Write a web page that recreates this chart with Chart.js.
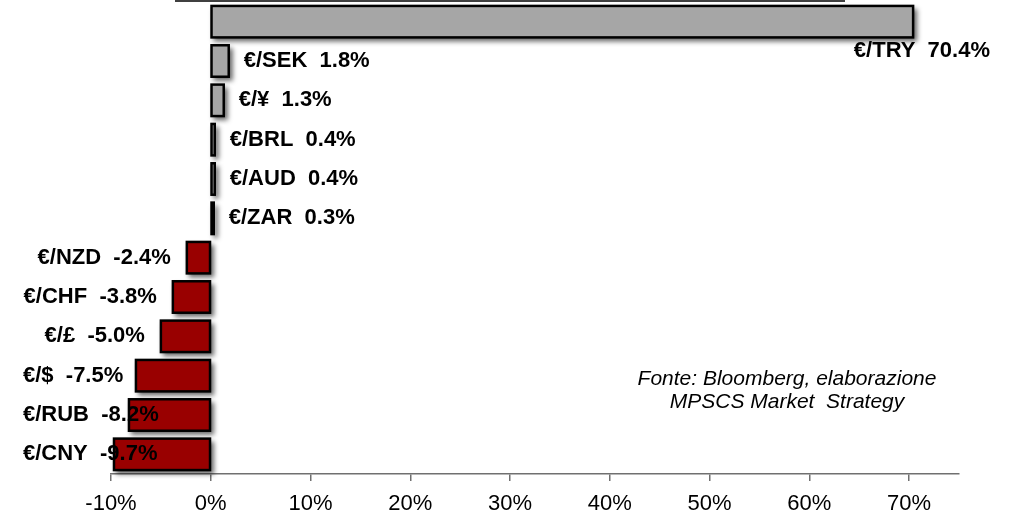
<!DOCTYPE html>
<html>
<head>
<meta charset="utf-8">
<script src="https://cdn.jsdelivr.net/npm/chart.js@4/dist/chart.umd.min.js"></script>
<style>
  body { margin: 0; background: #fff; }
  #wrap { position: relative; width: 1011px; height: 515px; }
  #fonte {
    position: absolute; left: 617px; top: 366px; width: 340px;
    text-align: center; font: italic 21px Arial, "Liberation Sans", sans-serif;
    line-height: 23px; color: #000; white-space: pre;
  }
</style>
</head>
<body>
<div id="wrap">
  <canvas id="fxChart"></canvas>
  <div id="fonte">Fonte: Bloomberg, elaborazione
MPSCS Market  Strategy</div>
</div>
<script>
const coppie = ['€/TRY', '€/SEK', '€/¥', '€/BRL', '€/AUD', '€/ZAR', '€/NZD', '€/CHF', '€/£', '€/$', '€/RUB', '€/CNY'];
const variazioni = [70.4, 1.8, 1.3, 0.4, 0.4, 0.3, -2.4, -3.8, -5.0, -7.5, -8.2, -9.7];
const tickVals = [-10, 0, 10, 20, 30, 40, 50, 60, 70];

const labelFont = 'bold 22px Arial, "Liberation Sans", sans-serif';

function barRect(bar) {
    const left = Math.min(bar.x, bar.base);
    const w = Math.abs(bar.x - bar.base);
    return { left: left, top: bar.y - bar.height / 2, w: w, h: bar.height };
}

// ombra sotto le barre + bordo nero stile Excel (centrato sul bordo)
const barStylePlugin = {
    id: 'barStyle',
    beforeDatasetsDraw(chart) {
        const ctx = chart.ctx;
        ctx.save();
        ctx.filter = 'blur(2.5px)';
        ctx.fillStyle = 'rgba(0,0,0,0.6)';
        chart.getDatasetMeta(0).data.forEach(bar => {
            const r = barRect(bar);
            ctx.fillRect(r.left + 2, r.top + 3, r.w + 2, r.h + 1);
        });
        ctx.restore();
    },
    afterDatasetsDraw(chart) {
        const ctx = chart.ctx;
        ctx.save();
        ctx.strokeStyle = '#000';
        ctx.lineWidth = 2.5;
        chart.getDatasetMeta(0).data.forEach(bar => {
            const r = barRect(bar);
            ctx.strokeRect(r.left, r.top, r.w, r.h);
        });
        ctx.restore();
    }
};

// etichette "€/XXX  1.8%" accanto alle barre
const labelPlugin = {
    id: 'barLabels',
    afterDraw(chart) {
        const ctx = chart.ctx;
        const meta = chart.getDatasetMeta(0);
        ctx.save();
        // linea in alto
        ctx.strokeStyle = '#404040';
        ctx.lineWidth = 2;
        ctx.beginPath();
        ctx.moveTo(175, 1);
        ctx.lineTo(845, 1);
        ctx.stroke();

        ctx.font = labelFont;
        ctx.fillStyle = '#000';
        ctx.textBaseline = 'middle';
        ctx.textAlign = 'left';
        meta.data.forEach((bar, i) => {
            const v = variazioni[i];
            const txt = coppie[i] + '  ' + v.toFixed(1) + '%';
            const w = ctx.measureText(txt).width;
            if (v >= 0) {
                let x = bar.x + 15;
                let y = bar.y;
                if (x + w > chart.width - 10) {
                    x = chart.width - 21 - w;
                    y = bar.y + bar.height / 2 + 14;
                }
                ctx.fillText(txt, x, y);
            } else {
                let left = bar.x - 16 - w;
                if (left < 23) left = 23;
                ctx.fillText(txt, left, bar.y);
            }
        });
        ctx.restore();
    }
};

new Chart(document.getElementById('fxChart'), {
    type: 'bar',
    data: {
        labels: coppie,
        datasets: [{
            data: variazioni,
            backgroundColor: variazioni.map(v => v >= 0 ? '#a6a6a6' : '#990000'),
            borderWidth: 0,
            barPercentage: 0.8,
            categoryPercentage: 1
        }]
    },
    options: {
        indexAxis: 'y',
        responsive: true,
        maintainAspectRatio: false,
        animation: false,
        layout: { padding: { top: 2, left: 111, right: 52, bottom: 0 } },
        plugins: {
            legend: { display: false },
            tooltip: { enabled: false }
        },
        scales: {
            y: { display: false },
            x: {
                min: -10,
                max: 75,
                afterBuildTicks: scale => {
                    scale.ticks = tickVals.map(v => ({ value: v }));
                },
                afterFit: scale => { scale.height = 41; },
                ticks: {
                    color: '#000',
                    padding: 12,
                    maxRotation: 0,
                    font: { family: 'Arial, "Liberation Sans", sans-serif', size: 22, lineHeight: 1 },
                    callback: v => v + '%'
                },
                grid: { drawOnChartArea: false, drawTicks: true, tickLength: 7, color: '#707070', lineWidth: 1.5 },
                border: { display: true, color: '#707070', width: 1.5 }
            }
        }
    },
    plugins: [barStylePlugin, labelPlugin]
});
</script>
</body>
</html>
